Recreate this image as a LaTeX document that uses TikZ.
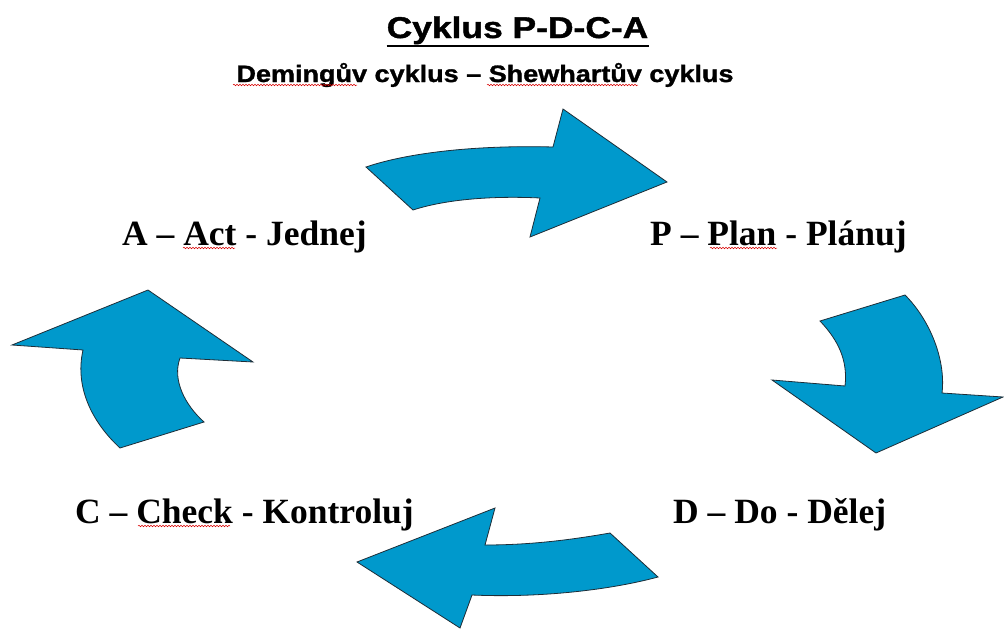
\documentclass[tikz,border=0pt]{standalone}
\usepackage{fontspec}
\usepackage{graphicx}
\setmainfont{Liberation Serif}
\newfontfamily\arialf[FakeBold=1.2]{Liberation Sans}
\usetikzlibrary{decorations.pathmorphing}
\definecolor{pdcablue}{RGB}{0,153,204}
\definecolor{pdcaedge}{RGB}{30,45,55}
\tikzset{
  bigarrow/.style={fill=pdcablue, draw=pdcaedge, line width=0.8pt, line join=miter},
  lbl/.style={anchor=base west, inner sep=0pt, font=\fontsize{35.5}{40}\selectfont\bfseries},
  squiggle/.style={draw=red!85!black, line width=0.5pt, decorate,
    decoration={snake, amplitude=0.8pt, segment length=3pt}}
}
\begin{document}
\begin{tikzpicture}[x=1pt,y=-1pt]
\useasboundingbox (0,0) rectangle (1004,629);

% titles
\node[anchor=base, inner sep=0pt] (title) at (517.5,38)
  {\scalebox{1.18}[1]{\arialf\bfseries\fontsize{30}{34}\selectfont Cyklus P-D-C-A}};
\draw[line width=2.2pt] ([yshift=-1.5pt]title.south west) -- ([yshift=-1.5pt]title.south east);
\node[anchor=base, inner sep=0pt] (sub) at (485,82)
  {\scalebox{1.14}[1]{\arialf\bfseries\fontsize{23.7}{28}\selectfont Demingův cyklus – Shewhartův cyklus}};

% labels
\node[lbl] (A) at (122,245) {A – Act - Jednej};
\node[lbl] (P) at (650,245) {P – Plan - Plánuj};
\node[lbl] (C) at (75,523) {C – Check - Kontroluj};
\node[lbl] (D) at (673,523) {D – Do - Dělej};

% spell-check squiggles
\draw[squiggle] (233,85) -- (357,85);
\draw[squiggle] (487,85) -- (638,85);
\draw[squiggle] (183,248) -- (235,248);
\draw[squiggle] (710,248) -- (777,248);
\draw[squiggle] (138,526) -- (230,526);

% top arrow (A -> P)
\draw[bigarrow] (366,167) .. controls (410,152) and (480,145) .. (553,147)
  -- (563,109) -- (667,182) -- (530,237) -- (540,198)
  .. controls (500,196) and (450,198) .. (413,210) -- cycle;

% right arrow (P -> D)
\draw[bigarrow] (905,295) -- (820,321)
  .. controls (838,340) and (848,360) .. (845,386)
  -- (772,380) -- (876,453) -- (1003,397) -- (942,393)
  .. controls (946,360) and (930,320) .. cycle;

% bottom arrow (D -> C)
\draw[bigarrow] (610,533) .. controls (570,540) and (530,545) .. (485,545)
  -- (495,508) -- (357,562) -- (460,628) -- (472,595)
  .. controls (540,598) and (610,590) .. (658,577) -- cycle;

% left arrow (C -> A)
\draw[bigarrow] (148,290) -- (12,345) -- (83,350)
  .. controls (74,390) and (95,425) .. (120,448)
  -- (204,422)
  .. controls (185,405) and (172,380) .. (180,358)
  -- (253,362) -- cycle;
\end{tikzpicture}
\end{document}
